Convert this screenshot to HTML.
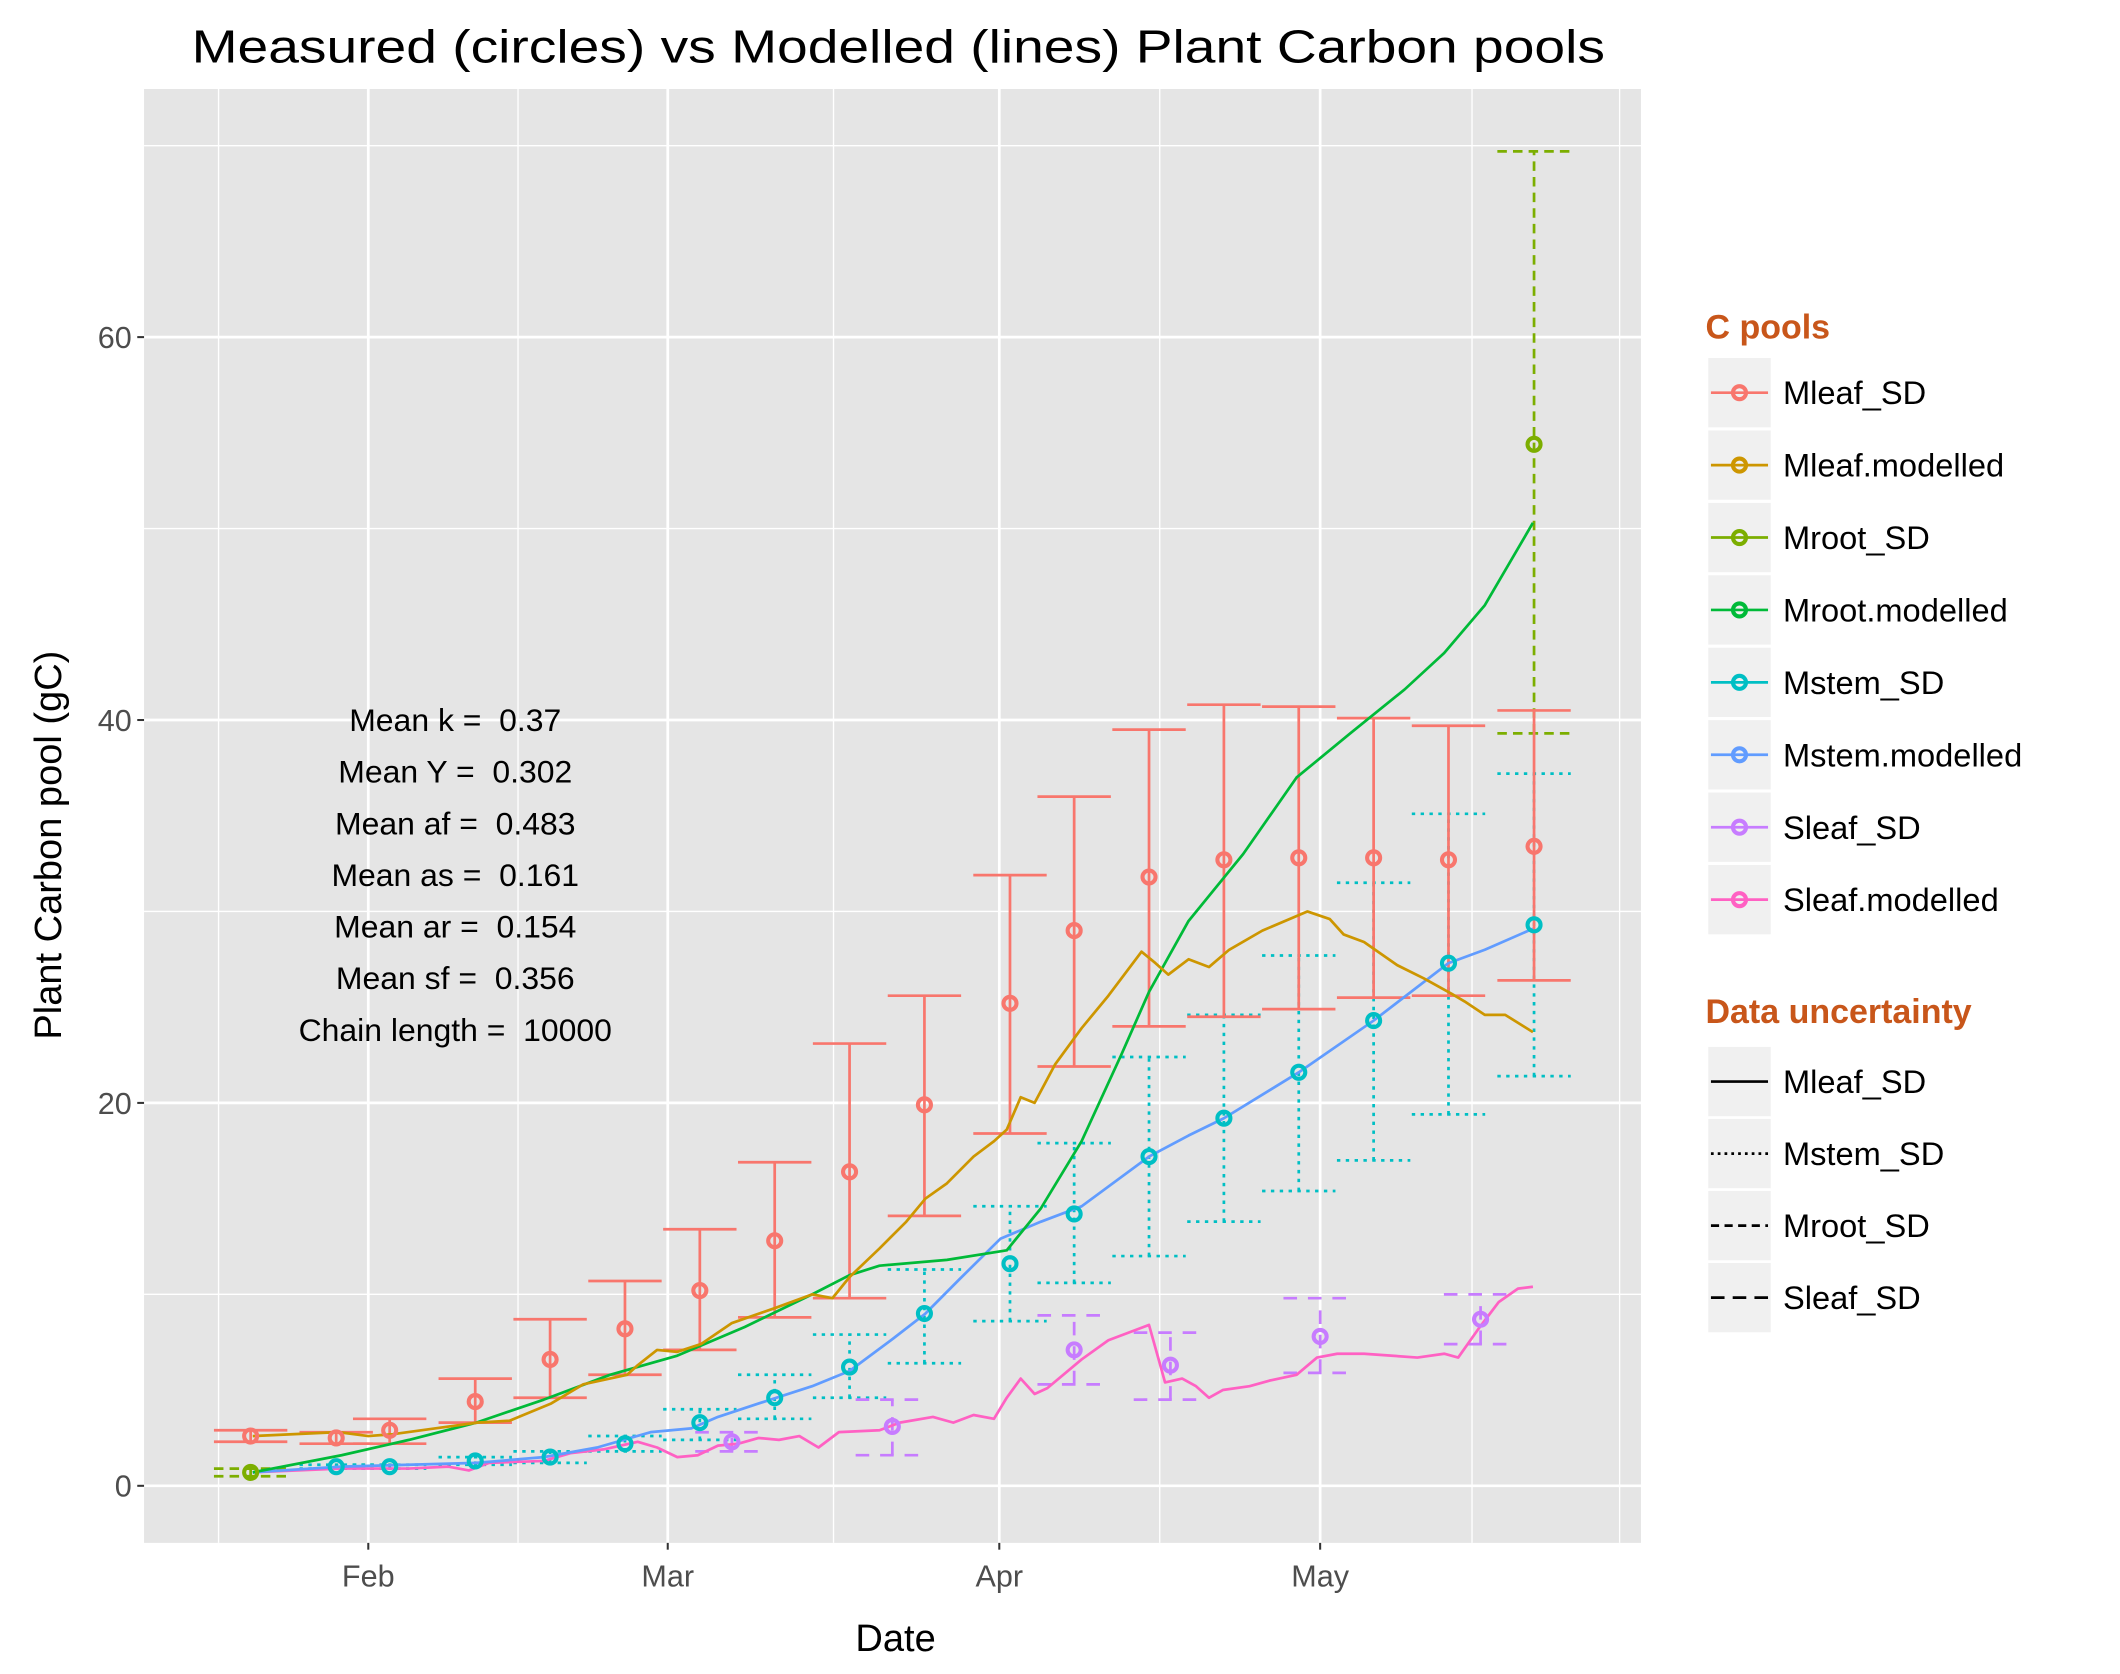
<!DOCTYPE html>
<html><head><meta charset="utf-8"><style>
html,body{margin:0;padding:0;background:#fff}
svg{display:block}
text{font-family:"Liberation Sans",Arial,sans-serif;white-space:pre}
</style></head><body>
<svg id="chart" width="2120" height="1674" viewBox="0 0 1560 1232" preserveAspectRatio="none" xmlns="http://www.w3.org/2000/svg" xml:space="preserve">
<rect x="0" y="0" width="1560" height="1232" fill="#fff"/>
<text x="141" y="46" font-size="34" textLength="1040" lengthAdjust="spacingAndGlyphs" fill="#000">Measured (circles) vs Modelled (lines) Plant Carbon pools</text>
<rect x="106" y="65.5" width="1101.5" height="1070" fill="#e5e5e5"/>
<g id="grid"></g>
<g id="series"></g>
<g id="axes"></g>
<text x="45" y="622" font-size="28" text-anchor="middle" transform="rotate(-90 45 622)">Plant Carbon pool (gC)</text>
<text x="659" y="1215" font-size="28" text-anchor="middle">Date</text>
<g font-size="23.5" text-anchor="middle">
<text x="335" y="538">Mean k =  0.37</text>
<text x="335" y="576">Mean Y =  0.302</text>
<text x="335" y="614">Mean af =  0.483</text>
<text x="335" y="652">Mean as =  0.161</text>
<text x="335" y="690">Mean ar =  0.154</text>
<text x="335" y="728">Mean sf =  0.356</text>
<text x="335" y="766">Chain length =  10000</text>
</g>
<g id="legend"></g>
</svg>
<script>
// ---- data (days since Feb 1; values gC) ----
const yTicks = [0, 20, 40, 60];
const yMinor = [10, 30, 50, 70];
const xTickDays = [0, 28, 59, 89];
const xTickLabels = ["Feb", "Mar", "Apr", "May"];
const xMinorDays = [-14, 14, 43.5, 74, 103.2, 117];

const mleafDays = [-11, -3, 2, 10, 17, 24, 31, 38, 45, 52, 60, 66, 73, 80, 87, 94, 101, 109];
const mleafVal  = [2.6, 2.5, 2.9, 4.4, 6.6, 8.2, 10.2, 12.8, 16.4, 19.9, 25.2, 29.0, 31.8, 32.7, 32.8, 32.8, 32.7, 33.4];
const mleafLo   = [2.3, 2.2, 2.2, 3.3, 4.6, 5.8, 7.1, 8.8, 9.8, 14.1, 18.4, 21.9, 24.0, 24.5, 24.9, 25.5, 25.6, 26.4];
const mleafHi   = [2.9, 2.8, 3.5, 5.6, 8.7, 10.7, 13.4, 16.9, 23.1, 25.6, 31.9, 36.0, 39.5, 40.8, 40.7, 40.1, 39.7, 40.5];

const mstemDays = [-3, 2, 10, 17, 24, 31, 38, 45, 52, 60, 66, 73, 80, 87, 94, 101, 109];
const mstemVal  = [1.0, 1.0, 1.3, 1.5, 2.2, 3.3, 4.6, 6.2, 9.0, 11.6, 14.2, 17.2, 19.2, 21.6, 24.3, 27.3, 29.3];
const mstemLo   = [0.9, 0.9, 1.1, 1.2, 1.8, 2.4, 3.5, 4.6, 6.4, 8.6, 10.6, 12.0, 13.8, 15.4, 17.0, 19.4, 21.4];
const mstemHi   = [1.1, 1.1, 1.5, 1.8, 2.6, 4.0, 5.8, 7.9, 11.3, 14.6, 17.9, 22.4, 24.6, 27.7, 31.5, 35.1, 37.2];

const mrootDays = [-11, 109];
const mrootVal  = [0.7, 54.4];
const mrootLo   = [0.5, 39.3];
const mrootHi   = [0.9, 69.7];

const sleafDays = [34, 49, 66, 75, 89, 104];
const sleafVal  = [2.3, 3.1, 7.1, 6.3, 7.8, 8.7];
const sleafLo   = [1.8, 1.6, 5.3, 4.5, 5.9, 7.4];
const sleafHi   = [2.8, 4.5, 8.9, 8.0, 9.8, 10.0];

const mleafModDays = [-10.8,-2.8,0,2.3,6.3,10.2,13.2,17.1,20.1,24.2,25.2,27,28.9,31.1,34,38.1,41.5,43.4,45,47.8,50.3,52.1,54.1,56.6,58.5,59.7,61,62.3,64.2,66.7,69.2,72.3,73.6,74.8,76.7,78.6,80.5,83.6,87.8,89.9,91.2,93.1,96.2,98.7,101.3,102.5,104.4,106.3,108.9];
const mleafModVal  = [2.6,2.8,2.6,2.7,3.0,3.3,3.4,4.3,5.3,5.8,6.3,7.1,7.0,7.4,8.5,9.3,10.0,9.8,10.9,12.4,13.8,15.0,15.8,17.2,18.0,18.6,20.3,20.0,22.0,23.9,25.6,27.9,27.3,26.7,27.5,27.1,28.0,29.0,30.0,29.6,28.8,28.4,27.2,26.5,25.7,25.3,24.6,24.6,23.7];

const mrootModDays = [-10.8,-2.5,3.8,10.1,16.4,22.6,28.9,35.2,41.5,45,47.8,54.1,59.7,62.9,66.7,70.4,73,76.7,81.8,86.8,91.8,96.9,100.6,104.4,108.9];
const mrootModVal  = [0.7,1.6,2.4,3.3,4.5,5.8,6.8,8.3,10.0,11.0,11.5,11.8,12.3,14.5,18.0,22.5,25.8,29.5,33.0,37.0,39.3,41.6,43.5,46.0,50.3];

const mstemModDays = [-10.8,-2.5,3.8,10.1,16.4,21.4,26.4,30.2,32.7,36.5,41.5,45,49.1,52.1,55.3,59.1,62.9,66.7,73,76.7,80,87,94,101,104.4,108.9];
const mstemModVal  = [0.7,1.0,1.1,1.2,1.5,2.0,2.8,3.0,3.6,4.3,5.2,6.0,7.7,9.0,10.8,12.9,13.8,14.6,17.2,18.3,19.2,21.6,24.3,27.3,28.0,29.1];

const sleafModDays = [-10.8,-2.5,3.8,7.5,9.4,11.3,16.4,18.9,22,25.2,27,28.9,30.8,32.7,34.6,36.5,38.4,40.3,42.1,44,47.8,49.7,52.8,54.7,56.6,58.5,59.7,61,62.3,63.5,66.7,69.2,73,74.5,76.1,77.4,78.6,79.9,82.4,84.3,86.8,88.7,90.6,93.1,95.6,98.1,100.6,101.9,103.8,105.7,107.5,108.9];
const sleafModVal  = [0.7,0.9,0.9,1.0,0.8,1.2,1.3,1.7,1.9,2.3,2.0,1.5,1.6,2.1,2.2,2.5,2.4,2.6,2.0,2.8,2.9,3.3,3.6,3.3,3.7,3.5,4.6,5.6,4.8,5.1,6.6,7.6,8.4,5.4,5.6,5.2,4.6,5.0,5.2,5.5,5.8,6.7,6.9,6.9,6.8,6.7,6.9,6.7,8.2,9.6,10.3,10.4];

// ---- scales ----
const NS = "http://www.w3.org/2000/svg";
const X0 = 271, PX_PER_DAY = 7.87;
const Y0 = 1093.5, PX_PER_UNIT = 14.09;
const PL = 106, PR = 1207.5, PT = 65.5, PB = 1135.5;
function sx(d){ return X0 + d * PX_PER_DAY; }
function sy(v){ return Y0 - v * PX_PER_UNIT; }
function mk(tag, attrs, parent){
  const e = document.createElementNS(NS, tag);
  for (const k in attrs) e.setAttribute(k, attrs[k]);
  parent.appendChild(e);
  return e;
}
const grid = document.getElementById('grid');
const series = document.getElementById('series');
const axes = document.getElementById('axes');
const legend = document.getElementById('legend');

yMinor.forEach(v => {
  const l = mk('line', {x1:PL, x2:PR, y1:sy(v), y2:sy(v), stroke:'#fff', 'stroke-width':1}, grid);
  
  
});
xMinorDays.forEach(d => {
  const l = mk('line', {x1:sx(d), x2:sx(d), y1:PT, y2:PB, stroke:'#fff', 'stroke-width':1}, grid);
  
  
});
yTicks.forEach(v => {
  const l = mk('line', {x1:PL, x2:PR, y1:sy(v), y2:sy(v), stroke:'#fff', 'stroke-width':2}, grid);
  
  
  const t = mk('line', {x1:PL-5, x2:PL, y1:sy(v), y2:sy(v), stroke:'#333', 'stroke-width':1.5}, axes);
  
  
  const tx = mk('text', {x:PL-9, y:sy(v)+8, 'font-size':22.5, 'text-anchor':'end', fill:'#4d4d4d'}, axes);
  tx.textContent = v;
  
  
});
xTickDays.forEach((d, i) => {
  const l = mk('line', {x1:sx(d), x2:sx(d), y1:PT, y2:PB, stroke:'#fff', 'stroke-width':2}, grid);
  
  
  const t = mk('line', {x1:sx(d), x2:sx(d), y1:PB, y2:PB+5, stroke:'#333', 'stroke-width':1.5}, axes);
  
  
  const tx = mk('text', {x:sx(d), y:PB+32, 'font-size':22.5, 'text-anchor':'middle', fill:'#4d4d4d'}, axes);
  tx.textContent = xTickLabels[i];
  
  
});

function drawLine(days, vals, color, name){
  const pts = days.map((d, i) => sx(d).toFixed(1) + ',' + sy(vals[i]).toFixed(1)).join(' ');
  const p = mk('polyline', {points:pts, fill:'none', stroke:color, 'stroke-width':2, 'stroke-linejoin':'round'}, series);
  
  
}
function drawErr(days, vals, lo, hi, color, dash, name){
  const g = mk('g', {}, series);
  
  
  days.forEach((d, i) => {
    const x = sx(d);
    const a = {stroke:color, 'stroke-width':2, fill:'none'};
    if (dash) a['stroke-dasharray'] = dash;
    const v = mk('line', Object.assign({x1:x, x2:x, y1:sy(lo[i]), y2:sy(hi[i])}, a), g);
    
    
    const c1 = mk('line', Object.assign({x1:x-27, x2:x+27, y1:sy(lo[i]), y2:sy(lo[i])}, a), g);
    
    
    const c2 = mk('line', Object.assign({x1:x-27, x2:x+27, y1:sy(hi[i]), y2:sy(hi[i])}, a), g);
    
    
  });
}
function drawPts(days, vals, color, name){
  days.forEach((d, i) => {
    const c = mk('circle', {cx:sx(d), cy:sy(vals[i]), r:4.8, fill:'none', stroke:color, 'stroke-width':3}, series);
    
    
  });
}
const C_MLEAF='#F8766D', C_MLEAFM='#CD9600', C_MROOT='#7CAE00', C_MROOTM='#00BA38', C_MSTEM='#00BFC4', C_MSTEMM='#619CFF', C_SLEAF='#C77CFF', C_SLEAFM='#FF61C3';

drawErr(mstemDays, mstemVal, mstemLo, mstemHi, C_MSTEM, '2.5,4', 'mstem-errorbar');
drawErr(mrootDays, mrootVal, mrootLo, mrootHi, C_MROOT, '7,4.5', 'mroot-errorbar');
drawErr(sleafDays, sleafVal, sleafLo, sleafHi, C_SLEAF, '10,8', 'sleaf-errorbar');
drawErr(mleafDays, mleafVal, mleafLo, mleafHi, C_MLEAF, null, 'mleaf-errorbar');
drawLine(sleafModDays, sleafModVal, C_SLEAFM, 'sleaf-modelled-line');
drawLine(mstemModDays, mstemModVal, C_MSTEMM, 'mstem-modelled-line');
drawLine(mrootModDays, mrootModVal, C_MROOTM, 'mroot-modelled-line');
drawLine(mleafModDays, mleafModVal, C_MLEAFM, 'mleaf-modelled-line');
drawPts(mleafDays, mleafVal, C_MLEAF, 'mleaf-point');
drawPts(mstemDays, mstemVal, C_MSTEM, 'mstem-point');
drawPts(sleafDays, sleafVal, C_SLEAF, 'sleaf-point');
drawPts(mrootDays, mrootVal, C_MROOT, 'mroot-point');

// ---- legend ----
const poolNames = ['Mleaf_SD','Mleaf.modelled','Mroot_SD','Mroot.modelled','Mstem_SD','Mstem.modelled','Sleaf_SD','Sleaf.modelled'];
const poolColors = [C_MLEAF, C_MLEAFM, C_MROOT, C_MROOTM, C_MSTEM, C_MSTEMM, C_SLEAF, C_SLEAFM];
const uncNames = ['Mleaf_SD','Mstem_SD','Mroot_SD','Sleaf_SD'];
const uncDash = ['', '2,3', '6,4', '10,6'];

const t1 = mk('text', {x:1255, y:249, 'font-size':25, 'font-weight':'bold', fill:'#C8561A'}, legend);
t1.textContent = 'C pools';


poolNames.forEach((n, i) => {
  const cy = 289 + i * 53.3;
  const g = mk('g', {}, legend);
  
  
  mk('rect', {x:1257, y:cy-25.5, width:46, height:51, fill:'#f0f0f0'}, g);
  mk('line', {x1:1259, x2:1301, y1:cy, y2:cy, stroke:poolColors[i], 'stroke-width':2}, g);
  mk('circle', {cx:1280, cy:cy, r:4.8, fill:'none', stroke:poolColors[i], 'stroke-width':3}, g);
  const tx = mk('text', {x:1312, y:cy+8.5, 'font-size':24, fill:'#000'}, g);
  tx.textContent = n;
});
const t2 = mk('text', {x:1255, y:753, 'font-size':25, 'font-weight':'bold', fill:'#C8561A'}, legend);
t2.textContent = 'Data uncertainty';


uncNames.forEach((n, i) => {
  const cy = 796 + i * 53;
  const g = mk('g', {}, legend);
  
  
  mk('rect', {x:1257, y:cy-25.5, width:46, height:51, fill:'#f0f0f0'}, g);
  const a = {x1:1259, x2:1301, y1:cy, y2:cy, stroke:'#000', 'stroke-width':2};
  if (uncDash[i]) a['stroke-dasharray'] = uncDash[i];
  mk('line', a, g);
  const tx = mk('text', {x:1312, y:cy+8.5, 'font-size':24, fill:'#000'}, g);
  tx.textContent = n;
});
</script>
</body></html>
